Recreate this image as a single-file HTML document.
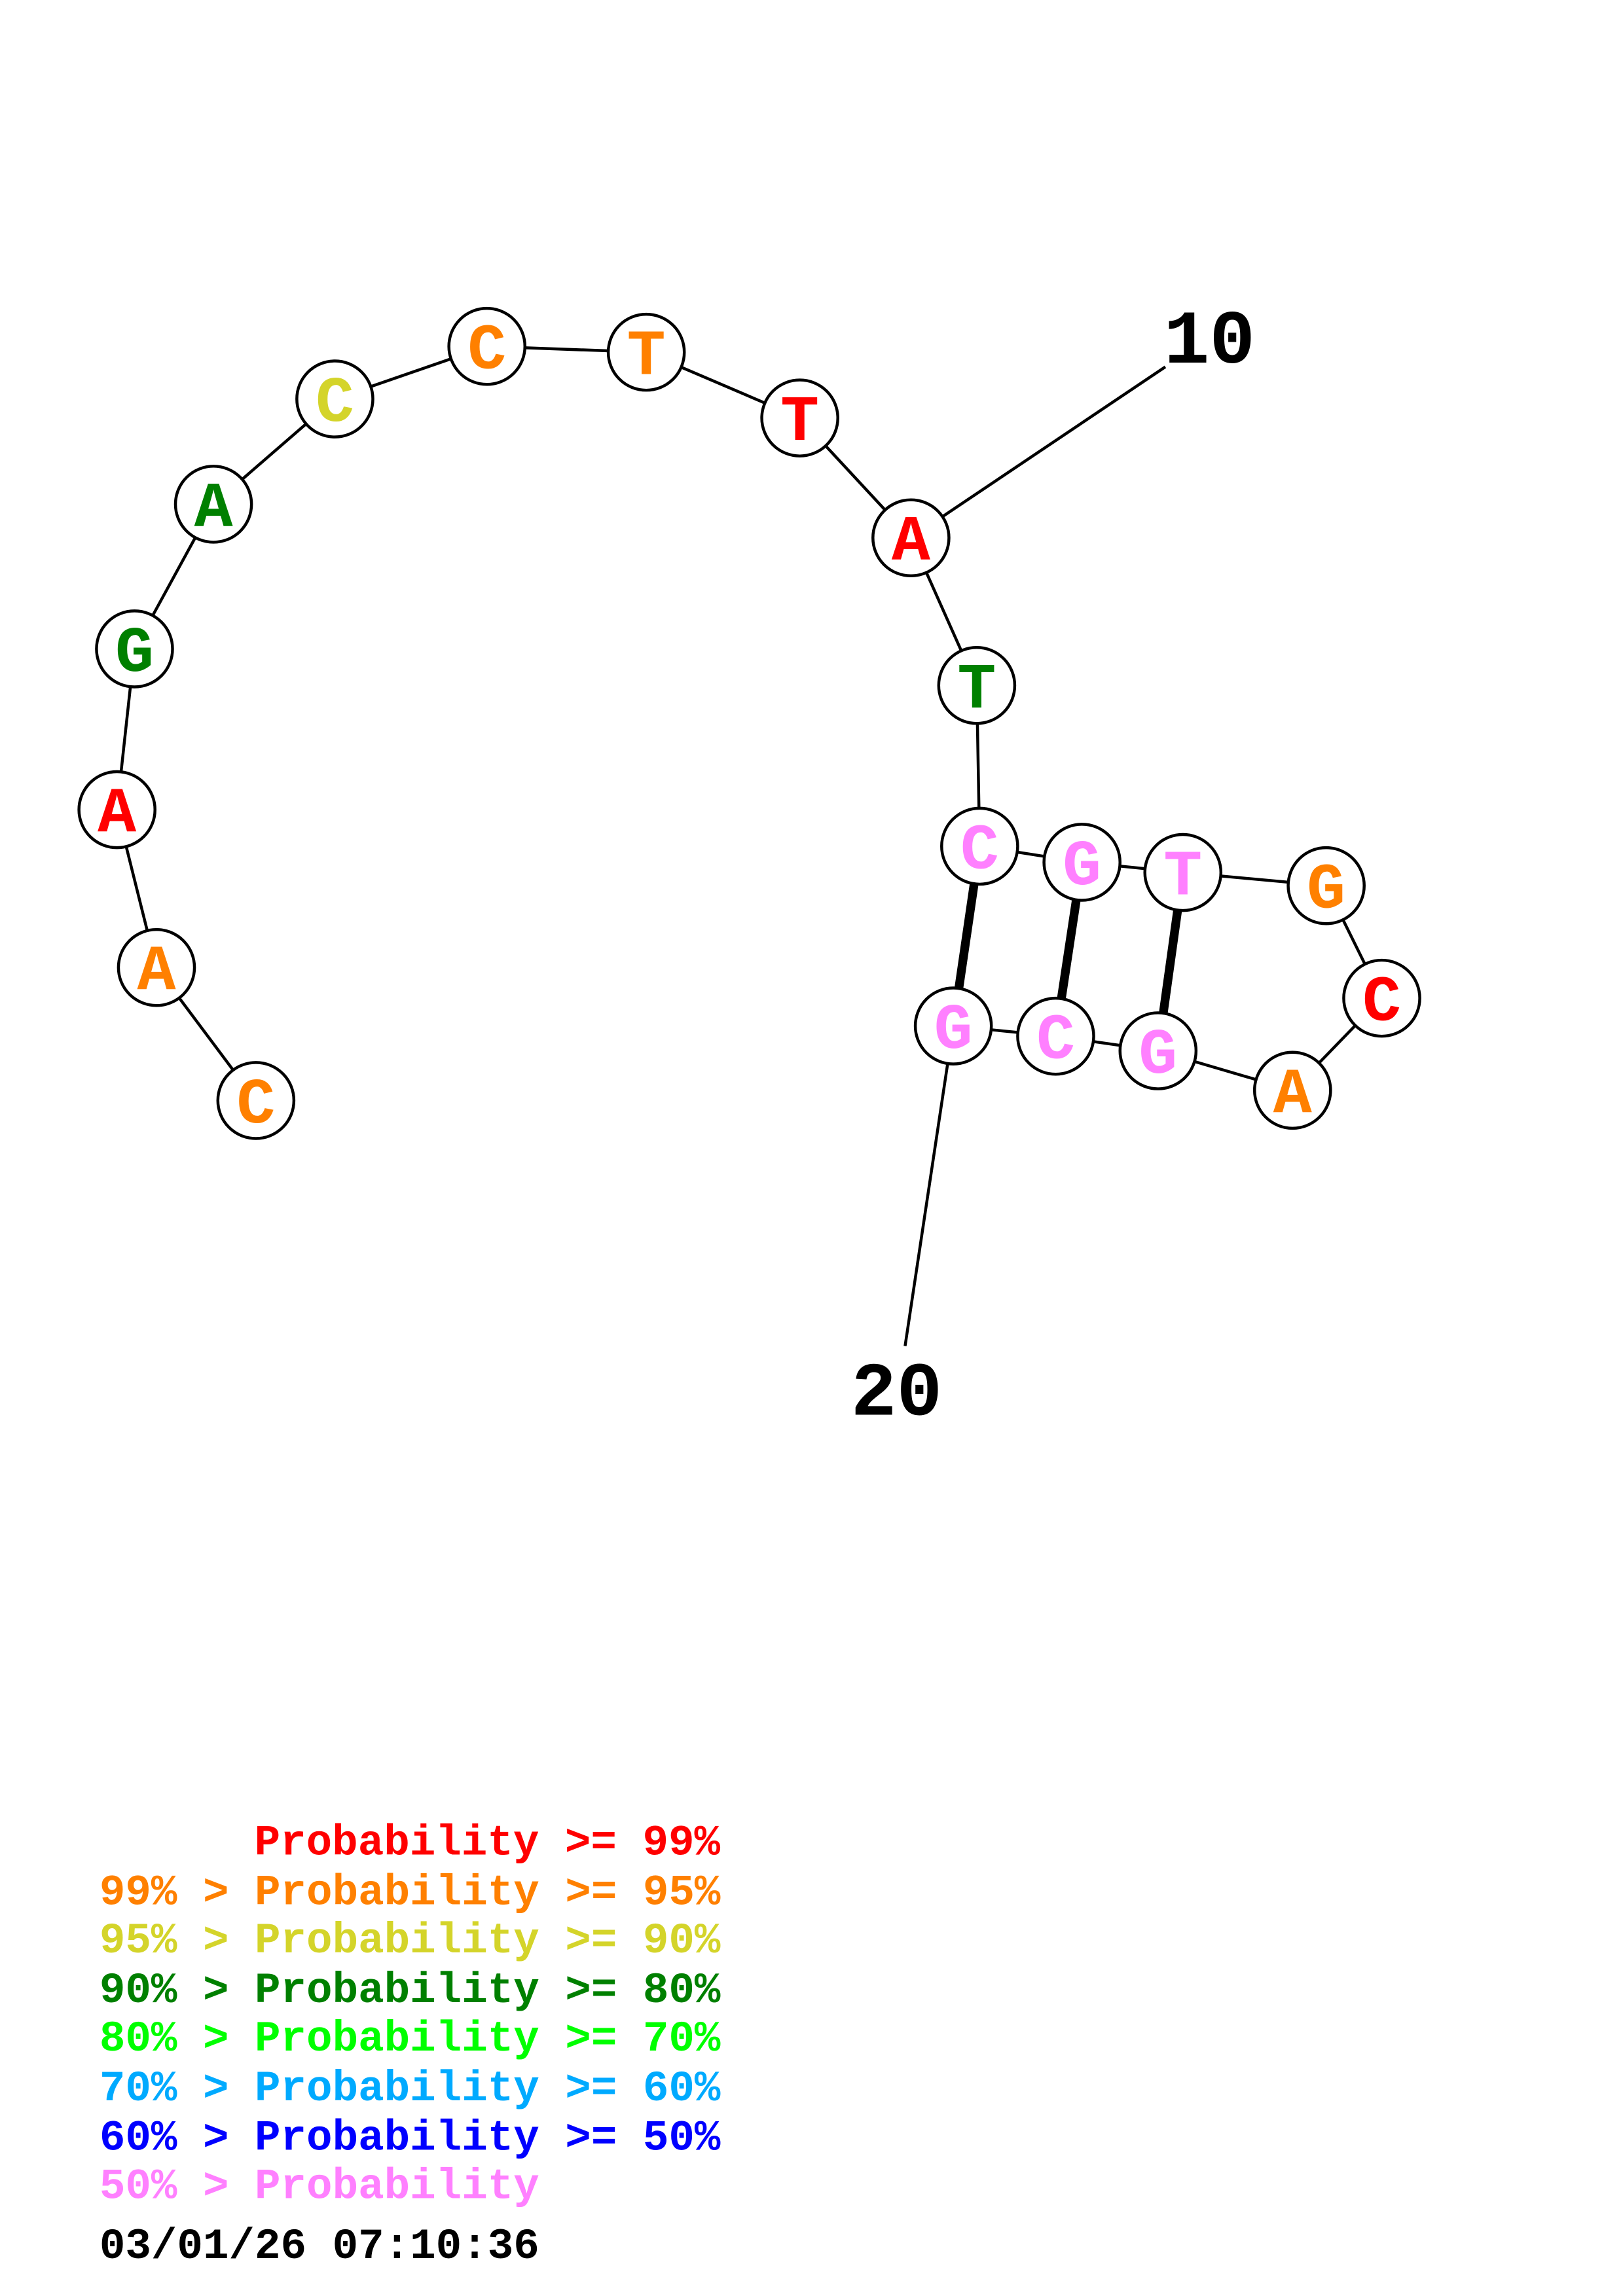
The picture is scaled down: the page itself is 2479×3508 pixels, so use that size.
<!DOCTYPE html>
<html><head><meta charset="utf-8"><style>html,body{margin:0;padding:0;background:#fff}svg{display:block}</style></head>
<body>
<svg width="2479" height="3508" viewBox="0 0 1110 1571" preserveAspectRatio="none" xmlns="http://www.w3.org/2000/svg">
<rect width="1110" height="1571" fill="#fff"/>
<g stroke="#000" stroke-width="2" fill="none">
<polyline points="175,753 107,662 80,554 92,444 146,345 229,273 333,237 442,241 547,286 623,368 668,469 670,579 740,590 809,597 907,606 945,683 884,746 792,719 722,709 652,702"/>
<line x1="623" y1="368" x2="797" y2="251"/>
<line x1="652" y1="702" x2="619" y2="921"/>
</g>
<g stroke="#000" stroke-width="6">
<line x1="670" y1="579" x2="652" y2="702"/>
<line x1="740" y1="590" x2="722" y2="709"/>
<line x1="809" y1="597" x2="792" y2="719"/>
</g>
<g stroke="#000" stroke-width="2" fill="#fff">
<circle cx="175" cy="753" r="26"/><circle cx="107" cy="662" r="26"/><circle cx="80" cy="554" r="26"/><circle cx="92" cy="444" r="26"/><circle cx="146" cy="345" r="26"/><circle cx="229" cy="273" r="26"/><circle cx="333" cy="237" r="26"/><circle cx="442" cy="241" r="26"/><circle cx="547" cy="286" r="26"/><circle cx="623" cy="368" r="26"/><circle cx="668" cy="469" r="26"/><circle cx="670" cy="579" r="26"/><circle cx="740" cy="590" r="26"/><circle cx="809" cy="597" r="26"/><circle cx="907" cy="606" r="26"/><circle cx="945" cy="683" r="26"/><circle cx="884" cy="746" r="26"/><circle cx="792" cy="719" r="26"/><circle cx="722" cy="709" r="26"/><circle cx="652" cy="702" r="26"/>
</g>
<g font-family="Liberation Mono, monospace" font-weight="bold" font-size="44" text-anchor="middle">
<text x="175" y="768" fill="#ff8000">C</text>
<text x="107" y="677" fill="#ff8000">A</text>
<text x="80" y="569" fill="#ff0000">A</text>
<text x="92" y="459" fill="#008000">G</text>
<text x="146" y="360" fill="#008000">A</text>
<text x="229" y="288" fill="#d4d42a">C</text>
<text x="333" y="252" fill="#ff8000">C</text>
<text x="442" y="256" fill="#ff8000">T</text>
<text x="547" y="301" fill="#ff0000">T</text>
<text x="623" y="383" fill="#ff0000">A</text>
<text x="668" y="484" fill="#008000">T</text>
<text x="670" y="594" fill="#ff80ff">C</text>
<text x="740" y="605" fill="#ff80ff">G</text>
<text x="809" y="612" fill="#ff80ff">T</text>
<text x="907" y="621" fill="#ff8000">G</text>
<text x="945" y="698" fill="#ff0000">C</text>
<text x="884" y="761" fill="#ff8000">A</text>
<text x="792" y="734" fill="#ff80ff">G</text>
<text x="722" y="724" fill="#ff80ff">C</text>
<text x="652" y="717" fill="#ff80ff">G</text>
</g>
<g font-family="Liberation Mono, monospace" font-weight="bold" font-size="52" fill="#000">
<text x="796" y="248">10</text>
<text x="582" y="968">20</text>
</g>
<g font-family="Liberation Mono, monospace" font-weight="bold" font-size="29.5">
<text x="174" y="1269" fill="#ff0000">Probability &gt;= 99%</text>
<text x="68" y="1303" fill="#ff8000">99% &gt; Probability &gt;= 95%</text>
<text x="68" y="1336" fill="#d4d42a">95% &gt; Probability &gt;= 90%</text>
<text x="68" y="1370" fill="#008000">90% &gt; Probability &gt;= 80%</text>
<text x="68" y="1403" fill="#00ff00">80% &gt; Probability &gt;= 70%</text>
<text x="68" y="1437" fill="#00aaff">70% &gt; Probability &gt;= 60%</text>
<text x="68" y="1471" fill="#0000ff">60% &gt; Probability &gt;= 50%</text>
<text x="68" y="1504" fill="#ff80ff">50% &gt; Probability</text>
<text x="68" y="1545" fill="#000">03/01/26 07:10:36</text>
</g>
</svg>
</body></html>
